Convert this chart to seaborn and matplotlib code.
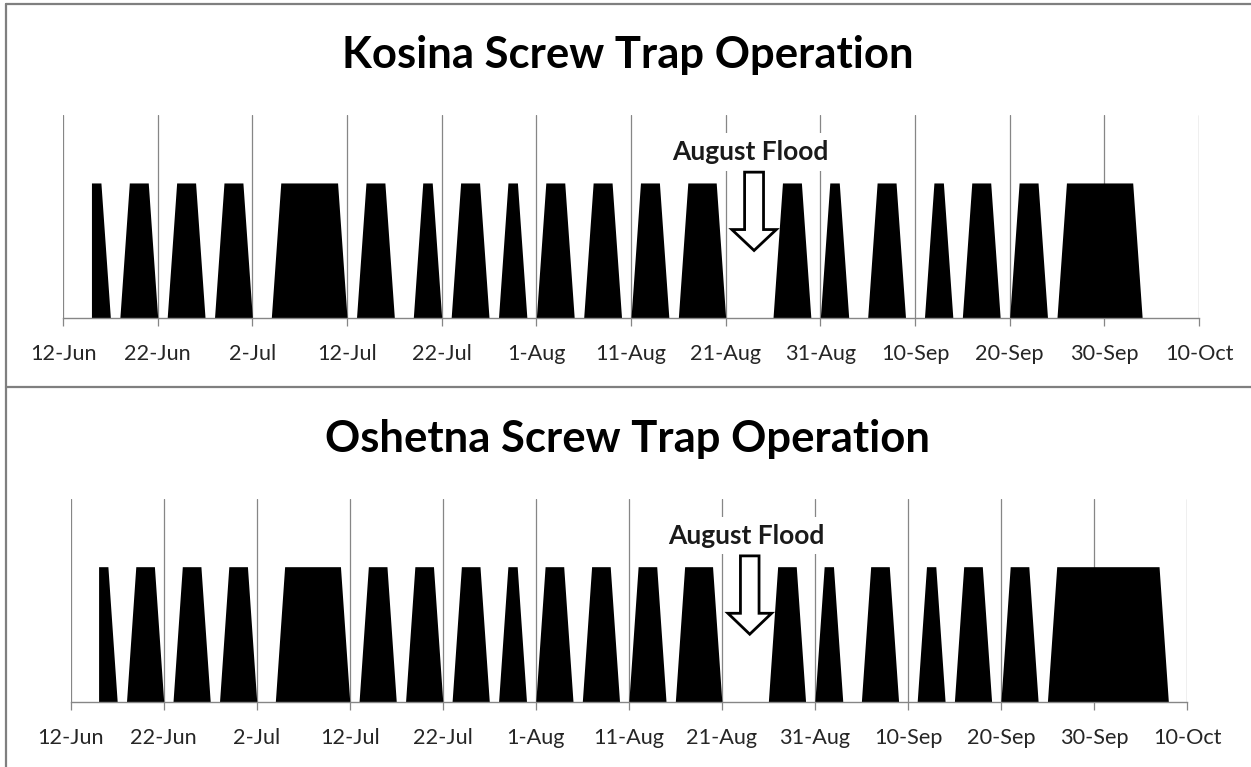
import numpy as np
import pandas as pd
import matplotlib
matplotlib.use("Agg")
import matplotlib.pyplot as plt
import matplotlib.dates as mdates
from matplotlib.patches import FancyArrow
from matplotlib.lines import Line2D
import seaborn as sns

YEAR = 2013

# x axis ticks
tick_dates = ["06-12", "06-22", "07-02", "07-12", "07-22", "08-01", "08-11",
              "08-21", "08-31", "09-10", "09-20", "09-30", "10-10"]
tick_labels = ["12-Jun", "22-Jun", "2-Jul", "12-Jul", "22-Jul", "1-Aug", "11-Aug",
               "21-Aug", "31-Aug", "10-Sep", "20-Sep", "30-Sep", "10-Oct"]

# first and last day of each fishing run (trap operating = 1)
kosina_start = ["06-15", "06-19", "06-24", "06-29", "07-05", "07-14", "07-20", "07-24",
                "07-29", "08-02", "08-07", "08-12", "08-17", "08-27", "09-01", "09-06",
                "09-12", "09-16", "09-21", "09-26"]
kosina_end = ["06-16", "06-21", "06-26", "07-01", "07-11", "07-16", "07-21", "07-26",
              "07-30", "08-04", "08-09", "08-14", "08-20", "08-29", "09-02", "09-08",
              "09-13", "09-18", "09-23", "10-03"]

oshetna_start = ["06-15", "06-19", "06-24", "06-29", "07-05", "07-14", "07-19", "07-24",
                 "07-29", "08-02", "08-07", "08-12", "08-17", "08-27", "09-01", "09-06",
                 "09-12", "09-16", "09-21", "09-26"]
oshetna_end = ["06-16", "06-21", "06-26", "07-01", "07-11", "07-16", "07-21", "07-26",
               "07-30", "08-04", "08-09", "08-14", "08-20", "08-29", "09-02", "09-08",
               "09-13", "09-18", "09-23", "10-07"]

flood_label = "August Flood"
flood_date = "08-24"


def to_date(md):
    return pd.Timestamp(f"{YEAR}-{md}")


def daily(starts, ends):
    s = [to_date(d) for d in starts]
    e = [to_date(d) for d in ends]
    days = pd.date_range(s[0], e[-1] + pd.Timedelta(days=1))
    val = np.zeros(len(days))
    for a, b in zip(s, e):
        val[(days >= a) & (days <= b)] = 1
    return pd.DataFrame({"date": days, "operating": val})


sns.set_theme(style="white")
plt.rcParams['font.family'] = ['Lato', 'DejaVu Sans']

fig = plt.figure(figsize=(12.51, 7.67), dpi=100)

grid_col = "#868686"
panels = [
    ("Kosina Screw Trap Operation", daily(kosina_start, kosina_end),
     [0.0504, 0.5854, 0.9080, 0.2641], 0.9113),
    ("Oshetna Screw Trap Operation", daily(oshetna_start, oshetna_end),
     [0.0565, 0.0851, 0.8923, 0.2641], 0.4111),
]

ticks = [to_date(d) for d in tick_dates]

for title, df, rect, title_y in panels:
    ax = fig.add_axes(rect)
    ax.fill_between(df["date"], df["operating"], color="black", lw=0, zorder=2)
    ax.set_xlim(ticks[0], ticks[-1])
    ax.set_ylim(0, 1.5)
    ax.set_xticks(ticks)
    ax.set_xticklabels(tick_labels)
    ax.set_yticks([])
    ax.set_axisbelow(True)
    ax.grid(axis="x", color=grid_col, lw=0.9)
    ax.grid(axis="y", visible=False)
    sns.despine(ax=ax, left=True, top=True, right=True)
    ax.spines["bottom"].set_color(grid_col)
    ax.spines["bottom"].set_linewidth(1.0)
    ax.tick_params(axis="x", bottom=True, length=6, width=0.9, color=grid_col,
                   pad=13, labelsize=15.6, labelcolor="#262626")
    ax.set_xlabel("")
    ax.set_ylabel("")

    fx = mdates.date2num(to_date(flood_date))
    ax.text(fx - 0.4, 1.23, flood_label, ha="center", va="center", fontsize=19,
            fontweight="bold", color="#1a1a1a", zorder=4,
            bbox=dict(facecolor="white", edgecolor="none", pad=5))
    ax.add_patch(FancyArrow(fx, 1.08, 0, -0.58, width=2.0, head_width=4.7,
                            head_length=0.155, length_includes_head=True,
                            facecolor="white", edgecolor="black", lw=2.0, zorder=5))

    fig.text(0.5016, title_y, title, ha="center", va="baseline", fontsize=31.4,
             fontweight="bold", color="black")

# chart frames
frame = dict(transform=fig.transFigure, color="#7f7f7f", lw=1.6)
fig.add_artist(Line2D([0.0048, 1], [0.9948, 0.9948], **frame))
fig.add_artist(Line2D([0.0048, 1], [0.4958, 0.4958], **frame))
fig.add_artist(Line2D([0.0048, 0.0048], [0, 0.9948], **frame))

fig.savefig("out.png", dpi=100)
